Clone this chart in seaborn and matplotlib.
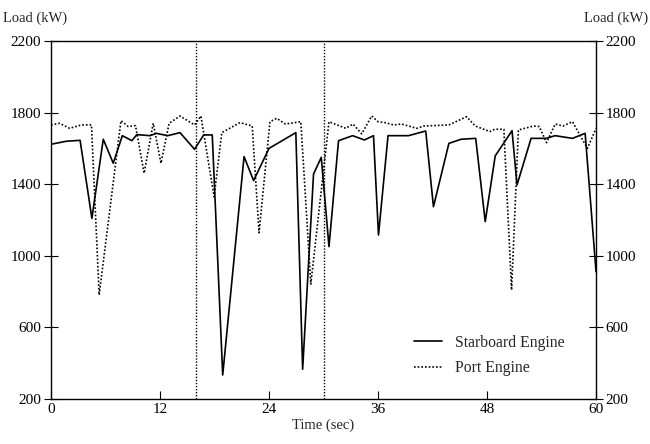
import pandas as pd
import seaborn as sns
import matplotlib.pyplot as plt

# Datos (tiempo en s, carga en kW)
t_star = [0.0, 1.7, 3.2, 4.5, 5.75, 6.85, 7.85, 8.9, 9.45, 10.9, 11.6, 12.85, 14.2, 15.8,
          16.8, 17.75, 18.9, 21.25, 22.3, 24.0, 26.95, 27.7, 28.9, 29.75, 30.6, 31.65,
          33.2, 34.5, 35.5, 36.05, 37.1, 39.35, 41.25, 42.1, 43.8, 45.15, 46.75, 47.8,
          48.9, 50.75, 51.3, 52.85, 54.5, 55.5, 57.4, 58.8, 60.0]
load_star = [1623, 1640, 1645, 1209, 1651, 1517, 1671, 1643, 1677, 1671, 1684, 1671, 1688, 1595,
             1675, 1675, 334, 1554, 1420, 1600, 1688, 366, 1457, 1550, 1051, 1643,
             1671, 1647, 1671, 1116, 1671, 1671, 1697, 1274, 1628, 1651, 1656, 1191,
             1558, 1699, 1396, 1656, 1656, 1671, 1656, 1684, 911]

t_port = [0.0, 0.95, 2.05, 3.35, 4.45, 5.3, 7.7, 8.5, 9.3, 10.25, 11.25, 12.1, 13.0, 14.2,
          15.8, 16.5, 17.95, 18.8, 20.8, 22.15, 22.9, 24.1, 24.85, 25.8, 27.5, 28.6, 30.6,
          32.45, 33.25, 34.2, 35.3, 36.0, 36.75, 37.7, 38.6, 40.25, 41.05, 43.8, 45.75,
          46.7, 48.3, 48.85, 49.85, 50.7, 51.45, 53.15, 53.75, 54.55, 55.5, 56.35, 57.4,
          59.05, 60.0]
load_port = [1731, 1740, 1712, 1731, 1731, 781, 1755, 1722, 1727, 1461, 1740, 1517, 1740, 1781,
             1731, 1781, 1330, 1688, 1744, 1725, 1129, 1749, 1768, 1736, 1749, 842, 1749,
             1712, 1736, 1681, 1781, 1749, 1744, 1731, 1736, 1712, 1725, 1731, 1777,
             1725, 1694, 1707, 1707, 809, 1703, 1725, 1722, 1632, 1736, 1725, 1749,
             1600, 1712]

marcas = [16, 30]
xticks = [0, 12, 24, 36, 48, 60]
yticks = [200, 600, 1000, 1400, 1800, 2200]

df_star = pd.DataFrame({"t": t_star, "load": load_star})
df_port = pd.DataFrame({"t": t_port, "load": load_port})

sns.set_style("ticks")
plt.rcParams["font.family"] = ["Liberation Serif", "DejaVu Serif"]

fig = plt.figure(figsize=(6.5, 4.44), dpi=100)
ax = fig.add_axes([0.0785, 0.1014, 0.8385, 0.8063])

sns.lineplot(data=df_star, x="t", y="load", ax=ax, color="black", lw=1.2,
             sort=False, estimator=None, label="Starboard Engine")
sns.lineplot(data=df_port, x="t", y="load", ax=ax, color="black", lw=1.2,
             linestyle=(0, (1, 1.2)), sort=False, estimator=None, label="Port Engine")

for m in marcas:
    ax.axvline(m, color="black", lw=1.0, linestyle=(0, (1, 1.2)))

ax.set_xlim(0, 60)
ax.set_ylim(200, 2200)
ax.set_xticks(xticks)
ax.set_yticks(yticks)
ax.set_xlabel("Time (sec)", fontsize=10.5, labelpad=2)
ax.set_ylabel("")
for s in ax.spines.values():
    s.set_color("black")
    s.set_linewidth(1.0)

ax.tick_params(axis="x", direction="in", length=6, labelsize=11, colors="black", pad=3)
ax.tick_params(axis="y", direction="inout", length=10, labelsize=11, colors="black",
               left=True, right=True, labelleft=True, labelright=True, pad=2)

fig.text(0.005, 0.96, "Load (kW)", fontsize=10.5, ha="left", va="center")
fig.text(0.997, 0.96, "Load (kW)", fontsize=10.5, ha="right", va="center")

ax.legend(loc="lower right", bbox_to_anchor=(0.968, 0.024), frameon=False,
          fontsize=11.3, handlelength=1.8, labelspacing=0.6)

fig.savefig("out.png", dpi=100)
